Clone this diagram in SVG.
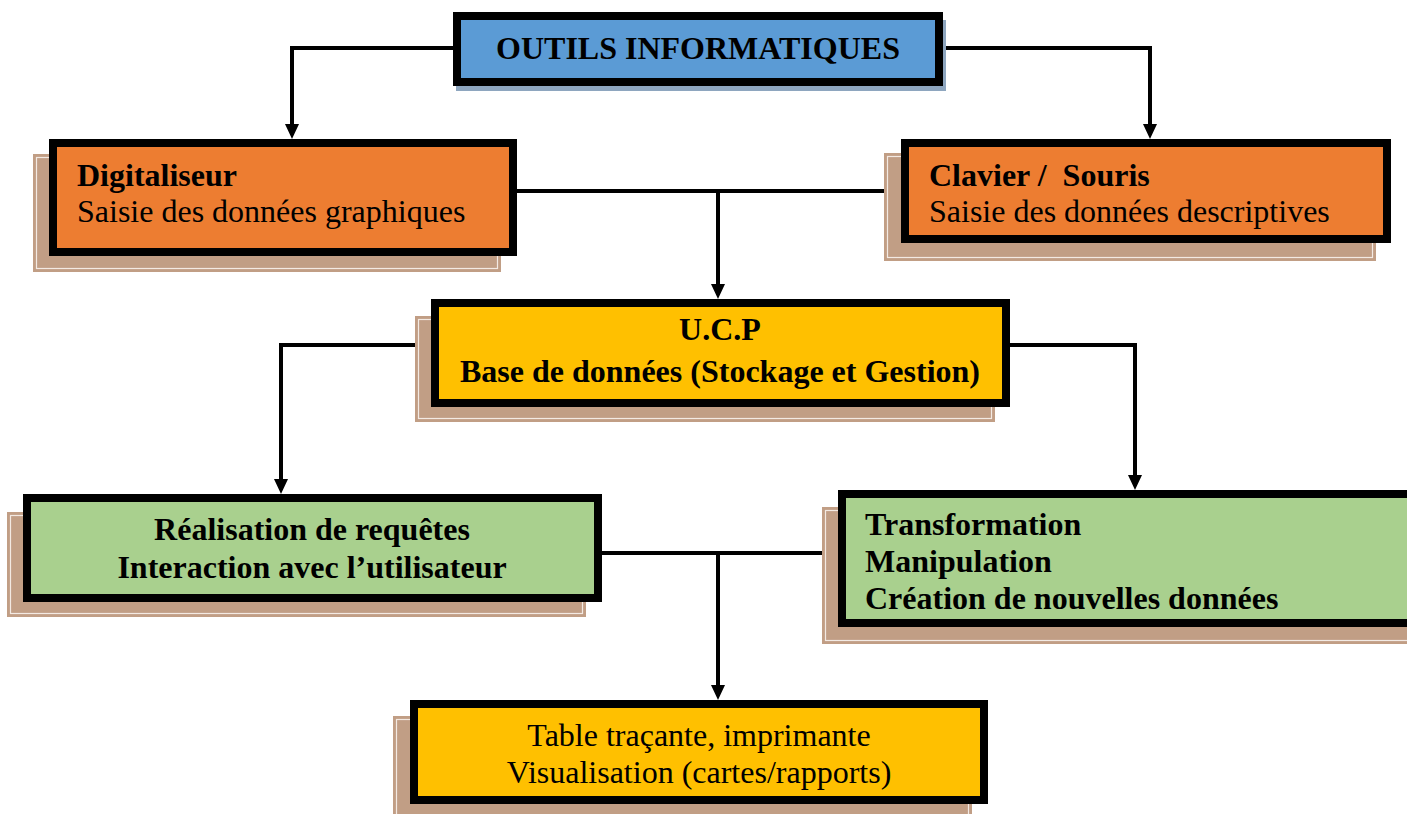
<svg xmlns="http://www.w3.org/2000/svg" width="1407" height="814" viewBox="0 0 1407 814">
<defs>
<style>
.box{stroke:#000;stroke-width:8}
.sh{fill:#C19E85}
.shl{fill:none;stroke:#F3EAE3;stroke-width:1.2}
.con{fill:none;stroke:#000;stroke-width:4}
text{font-family:"Liberation Serif","Times New Roman",serif;font-size:32px;fill:#000}
.b{font-weight:bold}
.c{text-anchor:middle}
</style>
<marker id="arr" markerUnits="userSpaceOnUse" viewBox="0 0 15 14" refX="11" refY="7" markerWidth="15" markerHeight="14" orient="auto">
<path d="M0,0 L15,7 L0,14 Z" fill="#000"/>
</marker>
</defs>
<rect width="1407" height="814" fill="#fff"/>
<g id="connectors">
<path class="con" d="M453,48 H292 V135" marker-end="url(#arr)"/>
<path class="con" d="M943,48 H1150 V135" marker-end="url(#arr)"/>
<path class="con" d="M517,191 H901"/>
<path class="con" d="M718,191 V295" marker-end="url(#arr)"/>
<path class="con" d="M431,345 H281 V490" marker-end="url(#arr)"/>
<path class="con" d="M1010,345 H1135 V486" marker-end="url(#arr)"/>
<path class="con" d="M602,553 H838"/>
<path class="con" d="M718,553 V696" marker-end="url(#arr)"/>
</g>
<g id="outils">
<rect x="456" y="20" width="490" height="71" fill="#8EA6BF"/>
<rect class="box" x="457" y="16" width="482" height="66" fill="#5B9BD5"/>
<text class="b c" x="698" y="59">OUTILS INFORMATIQUES</text>
</g>
<g id="digitaliseur">
<rect class="sh" x="33" y="154" width="468" height="118"/>
<rect class="shl" x="36.5" y="157.5" width="461" height="111"/>
<rect class="box" x="53" y="143" width="460" height="109" fill="#ED7D31"/>
<text class="b" x="77" y="186">Digitaliseur</text>
<text x="77" y="222">Saisie des données graphiques</text>
</g>
<g id="clavier">
<rect class="sh" x="884" y="153" width="492" height="108"/>
<rect class="shl" x="887.5" y="156.5" width="485" height="101"/>
<rect class="box" x="905" y="143" width="482" height="96" fill="#ED7D31"/>
<text class="b" x="929" y="186">Clavier /&#160; Souris</text>
<text x="929" y="222">Saisie des données descriptives</text>
</g>
<g id="ucp">
<rect class="sh" x="415" y="316" width="580" height="106"/>
<rect class="shl" x="418.5" y="319.5" width="573" height="99"/>
<rect class="box" x="435" y="303" width="571" height="100" fill="#FFC000"/>
<text class="b c" x="720" y="340">U.C.P</text>
<text class="b c" x="720" y="382">Base de données (Stockage et Gestion)</text>
</g>
<g id="realisation">
<rect class="sh" x="7" y="512" width="579" height="105"/>
<rect class="shl" x="10.5" y="515.5" width="572" height="98"/>
<rect class="box" x="27" y="498" width="571" height="100" fill="#A9D08E"/>
<text class="b c" x="312" y="540">Réalisation de requêtes</text>
<text class="b c" x="312" y="578">Interaction avec l’utilisateur</text>
</g>
<g id="transformation">
<rect class="sh" x="822" y="507" width="585" height="137"/>
<rect class="shl" x="825.5" y="510.5" width="590" height="130"/>
<rect class="box" x="842" y="494" width="580" height="129" fill="#A9D08E"/>
<text class="b" x="865" y="535">Transformation</text>
<text class="b" x="865" y="572">Manipulation</text>
<text class="b" x="865" y="609">Création de nouvelles données</text>
</g>
<g id="table">
<rect class="sh" x="393" y="716" width="579" height="104"/>
<rect class="shl" x="396.5" y="719.5" width="572" height="100"/>
<rect class="box" x="414" y="704" width="570" height="96" fill="#FFC000"/>
<text class="c" x="699" y="746">Table traçante, imprimante</text>
<text class="c" x="699" y="783">Visualisation (cartes/rapports)</text>
</g>
</svg>
